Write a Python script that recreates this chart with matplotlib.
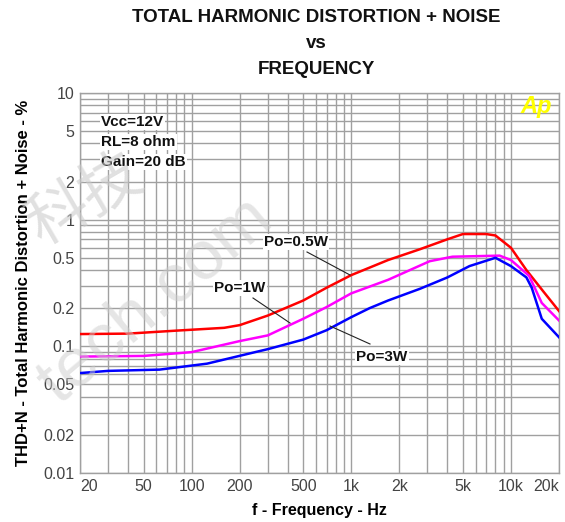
import matplotlib
matplotlib.use("Agg")
import matplotlib.pyplot as plt
from matplotlib.ticker import FixedLocator, LogLocator, NullFormatter, FixedFormatter

# ---- data ----
freq_05w = [20, 40, 80, 160, 200, 300, 500, 700, 1000, 1700, 2700, 4000, 5000, 7000, 8000, 10000, 12500, 16000, 20000]
thd_05w = [0.125, 0.126, 0.133, 0.140, 0.147, 0.175, 0.230, 0.290, 0.365, 0.48, 0.585, 0.70, 0.77, 0.77, 0.75, 0.60, 0.40, 0.27, 0.19]

freq_1w = [20, 50, 100, 200, 300, 500, 700, 1000, 1700, 3100, 4300, 8500, 10000, 13000, 15600, 20000]
thd_1w = [0.083, 0.084, 0.090, 0.110, 0.122, 0.165, 0.204, 0.262, 0.335, 0.47, 0.51, 0.52, 0.48, 0.36, 0.22, 0.16]

freq_3w = [20, 30, 63, 125, 250, 300, 500, 700, 1000, 1300, 1700, 2700, 4000, 5500, 8000, 10000, 12500, 13500, 15600, 20000]
thd_3w = [0.0615, 0.064, 0.0655, 0.073, 0.090, 0.095, 0.113, 0.134, 0.170, 0.20, 0.23, 0.285, 0.35, 0.43, 0.50, 0.43, 0.35, 0.29, 0.165, 0.118]

x_ticks = [20, 50, 100, 200, 500, 1000, 2000, 5000, 10000, 20000]
x_labels = ["20", "50", "100", "200", "500", "1k", "2k", "5k", "10k", "20k"]
y_ticks = [0.01, 0.02, 0.05, 0.1, 0.2, 0.5, 1, 2, 5, 10]
y_labels = ["0.01", "0.02", "0.05", "0.1", "0.2", "0.5", "1", "2", "5", "10"]

plt.rcParams['font.family'] = ['Liberation Sans', 'DejaVu Sans']

fig = plt.figure(figsize=(5.65, 5.22), dpi=100)
ax = fig.add_axes([80/565, 1-473/522, (559-80)/565, (473-93)/522])

ax.set_xscale('log')
ax.set_yscale('log')
ax.set_xlim(20, 20000)
ax.set_ylim(0.01, 10)

grid_c = '#a0a0a0'
ax.xaxis.set_major_locator(FixedLocator(x_ticks))
ax.xaxis.set_major_formatter(FixedFormatter(x_labels))
ax.xaxis.set_minor_locator(LogLocator(base=10, subs=range(1, 10), numticks=20))
ax.xaxis.set_minor_formatter(NullFormatter())
ax.yaxis.set_major_locator(FixedLocator(y_ticks))
ax.yaxis.set_major_formatter(FixedFormatter(y_labels))
ax.yaxis.set_minor_locator(LogLocator(base=10, subs=range(1, 10), numticks=20))
ax.yaxis.set_minor_formatter(NullFormatter())
ax.grid(True, which='both', color=grid_c, linewidth=1.0)
ax.set_axisbelow(True)
ax.tick_params(which='both', length=0, labelsize=11.5, labelcolor='#444444', pad=4)
for s in ax.spines.values():
    s.set_color(grid_c)
    s.set_linewidth(1.0)

xl = ax.get_xticklabels()
xl[0].set_horizontalalignment('left')
xl[-1].set_horizontalalignment('right')

ax.plot(freq_05w, thd_05w, color='#ff0000', lw=1.8, zorder=3)
ax.plot(freq_1w, thd_1w, color='#ff00ff', lw=1.8, zorder=3)
ax.plot(freq_3w, thd_3w, color='#0000ff', lw=1.8, zorder=3)

box = dict(facecolor='white', edgecolor='none', pad=1.0)
tkw = dict(fontsize=11, fontweight='bold', color='#111111', zorder=5)

def px(x, y):
    return ax.transData.inverted().transform(fig.transFigure.transform((x/565, 1-y/522)))

for label, ypx in [("Vcc=12V", 122), ("RL=8 ohm", 142), ("Gain=20 dB", 162)]:
    xx, yy = px(101, ypx)
    ax.text(xx, yy, label, ha='left', va='center', bbox=box, **tkw)

# annotations
ann = [("Po=0.5W", (296, 242), (307, 252), (350, 275)),
       ("Po=1W", (240, 288), (253, 298), (290, 323)),
       ("Po=3W", (382, 357), (370, 344), (330, 326))]
for label, tpos, l0, l1 in ann:
    a0 = px(*l0); a1 = px(*l1)
    ax.plot([a0[0], a1[0]], [a0[1], a1[1]], color='#222222', lw=0.8, zorder=4)
    tx, ty = px(*tpos)
    ax.text(tx, ty, label, ha='center', va='center', bbox=box, **tkw)

# Ap logo
lx, ly = px(536, 106)
ax.text(lx, ly, "Ap", ha='center', va='center', fontsize=17, fontweight='bold',
        fontstyle='italic', color='#ffff00', zorder=6)

ax.set_xlabel("f - Frequency - Hz", fontsize=11.5, fontweight='bold', labelpad=7)
ax.set_ylabel("THD+N - Total Harmonic Distortion + Noise - %", fontsize=12,
              fontweight='bold', labelpad=9)

fig.text(316/565, 1-18/522, "TOTAL HARMONIC DISTORTION + NOISE", ha='center', va='center',
         fontsize=13.5, fontweight='bold', color='#111111')
fig.text(316/565, 1-44/522, "vs", ha='center', va='center', fontsize=13.5,
         fontweight='bold', color='#111111')
fig.text(316/565, 1-70/522, "FREQUENCY", ha='center', va='center', fontsize=13.5,
         fontweight='bold', color='#111111')

# watermark
fig.text(85/565, 1-200/522, "科技", ha='center', va='center', fontsize=44, rotation=30,
         color='#cccccc', alpha=0.6, family=['Noto Sans CJK SC', 'DejaVu Sans'], zorder=10)
fig.text(155/565, 1-300/522, "tech.com", ha='center', va='center', fontsize=50, rotation=40,
         color='#cccccc', alpha=0.5, zorder=10)

fig.savefig("out.png", dpi=100)
